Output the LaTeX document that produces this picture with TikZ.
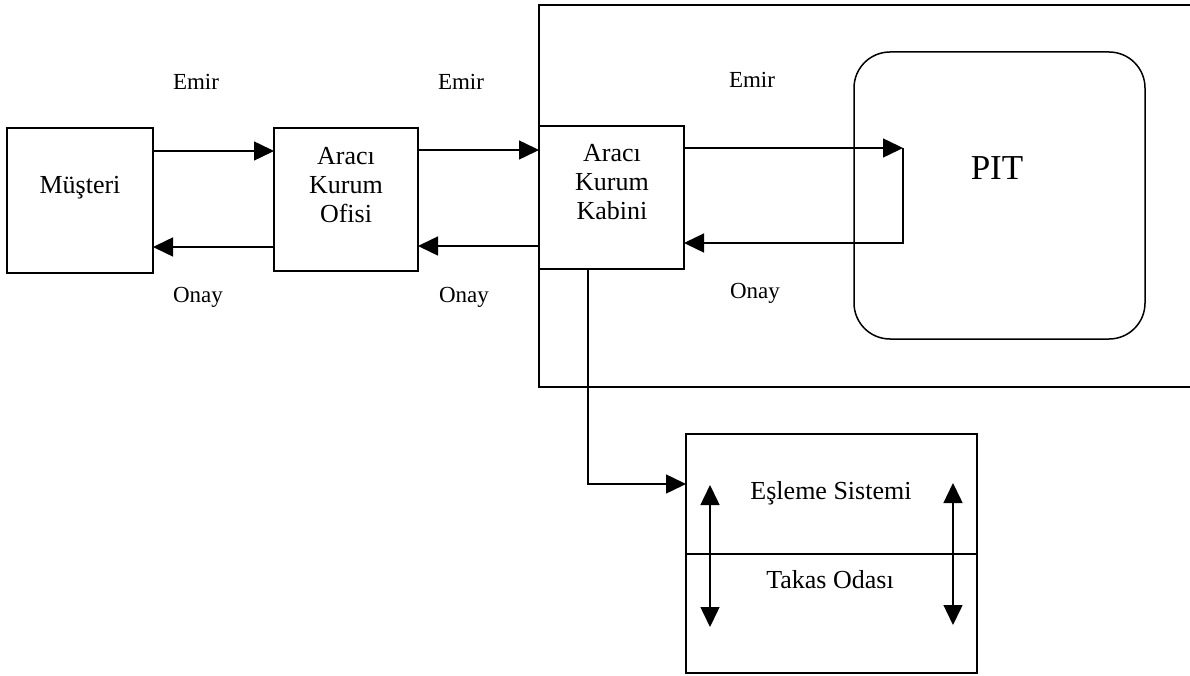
\documentclass[tikz,border=0pt]{standalone}
\usepackage{fontspec}
\setmainfont{Liberation Serif}
\usetikzlibrary{arrows.meta}
\tikzset{
  box/.style={draw, line width=1.5pt, rectangle, inner sep=0pt, outer sep=0pt, anchor=north west},
  conn/.style={line width=1.5pt},
  arr/.style={conn, -{Triangle[length=20pt,width=19pt]}},
  darr/.style={conn, {Triangle[length=20pt,width=19pt]}-{Triangle[length=20pt,width=19pt]}},
  lbl/.style={font=\fontsize{23}{27}\selectfont, inner sep=0pt},
  btxt/.style={font=\fontsize{26}{29}\selectfont, align=center, inner sep=0pt},
}
\begin{document}
\begin{tikzpicture}[x=1pt,y=-1pt]
\useasboundingbox[fill=white] (0,0) rectangle (1190,676);
% outer frame (open at right)
\draw[conn] (1190,5) coordinate (fr1) -- (539,5) coordinate (fr2) -- (539,387) coordinate (fr3) -- (1190,387) coordinate (fr4);
% boxes
\node[box, minimum width=146pt, minimum height=145pt] (mus) at (7,128) {};
\node[box, minimum width=144pt, minimum height=143pt] (ofi) at (274,128) {};
\node[box, minimum width=145pt, minimum height=143pt] (kab) at (539,126) {};
\node[box, rounded corners=36pt, minimum width=291pt, minimum height=287pt] (pit) at (854,52) {};
\node[box, minimum width=291pt, minimum height=239pt] (esl) at (686,434) {};
% texts
\node[btxt] (tmus) at (80,188) {Müşteri};
\node[btxt] (tofi) at (346,185) {Aracı\\Kurum\\Ofisi};
\node[btxt] (tkab) at (612,182) {Aracı\\Kurum\\Kabini};
\node[font=\fontsize{35}{40}\selectfont, inner sep=0pt] (tpit) at (997,168) {PIT};
\node[btxt] (tesl) at (831,493) {Eşleme Sistemi};
\node[btxt] (ttak) at (830,580) {Takas Odası};
% labels
\node[lbl] (e1) at (196,82) {Emir};
\node[lbl] (e2) at (461,82) {Emir};
\node[lbl] (e3) at (752,80) {Emir};
\node[lbl] (o1) at (198,297) {Onay};
\node[lbl] (o2) at (464,297) {Onay};
\node[lbl] (o3) at (755,293) {Onay};
% level coordinates
\coordinate (ya) at (0,151);
\coordinate (yb) at (0,247);
\coordinate (yc) at (0,150);
\coordinate (yd) at (0,246);
\coordinate (ye) at (0,148);
\coordinate (yf) at (0,243);
\coordinate (pin) at (903,148);
\coordinate (pturn) at (903,243);
\coordinate (dtop) at (588,269);
\coordinate (dbend) at (588,484);
\coordinate (yg) at (0,484);
% connectors
\draw[arr] (mus.east |- ya) -- (ofi.west |- ya);
\draw[arr] (ofi.west |- yb) -- (mus.east |- yb);
\draw[arr] (ofi.east |- yc) -- (kab.west |- yc);
\draw[arr] (kab.west |- yd) -- (ofi.east |- yd);
\draw[arr] (kab.east |- ye) -- (pin);
\draw[arr] (pin) -- (pturn) -- (kab.east |- yf);
\draw[arr] (dtop) -- (dbend) -- (esl.west |- yg);
% divider
\coordinate (dvl) at (686,554);
\coordinate (dvr) at (977,554);
\draw[conn] (dvl) -- (dvr);
% double arrows
\coordinate (la) at (710,485);
\coordinate (lb) at (710,627);
\coordinate (ra) at (953,483);
\coordinate (rb) at (953,625);
\draw[darr] (la) -- (lb);
\draw[darr] (ra) -- (rb);
\end{tikzpicture}
\end{document}
